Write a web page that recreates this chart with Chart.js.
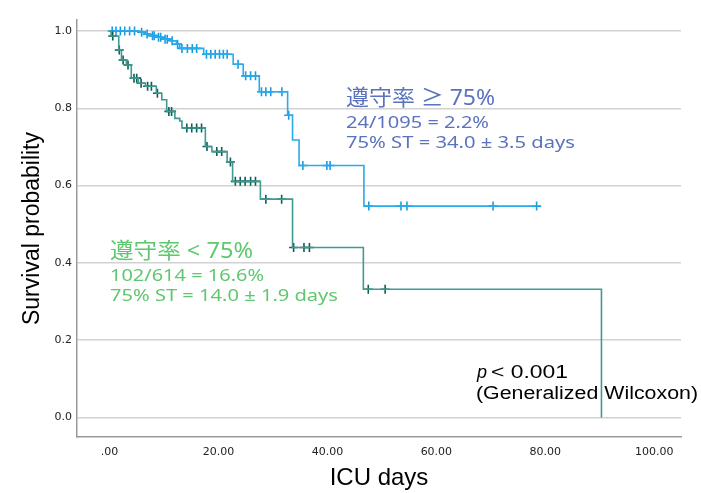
<!DOCTYPE html>
<html>
<head>
<meta charset="utf-8">
<script src="https://cdn.jsdelivr.net/npm/chart.js@4.4.1/dist/chart.umd.min.js"></script>
<style>
  html, body { margin: 0; padding: 0; background: #fff; }
</style>
</head>
<body>
<canvas id="km" width="701" height="493"></canvas>
<script>
// Kaplan-Meier curves: time of each drop (days) and survival after it
const highTimes = [0, 5.5, 6.5, 7.4, 8.6, 9.8, 11.1, 12.3, 12.9, 17.3, 22.7, 24.55, 27.5, 32.7, 33.6, 34.8, 46.7, 78.4];
const highSurv  = [1.0, 0.997, 0.992, 0.988, 0.984, 0.979, 0.975, 0.966, 0.955, 0.940, 0.914, 0.884, 0.843, 0.782, 0.718, 0.652, 0.547, 0.547];
const highCensored = [0.5, 1.2, 2.0, 2.8, 3.7, 4.6, 5.9, 6.9, 7.9, 8.2, 9.0, 9.4, 10.2, 10.6, 11.5, 12.5,
  13.3, 14.3, 15.2, 16.0, 17.8, 18.6, 19.4, 20.2, 20.9, 21.6, 23.6, 25.0, 25.9, 26.8, 27.9, 28.7, 29.6,
  31.65, 32.9, 35.5, 39.9, 40.5, 47.6, 53.5, 54.6, 70.4, 78.4];

const lowTimes = [0, 0.3, 1.7, 2.2, 3.1, 4.0, 5.3, 6.6, 8.6, 9.6, 10.5, 12.0, 12.9, 13.3, 17.6, 18.8, 21.6, 22.6, 27.7, 33.6, 46.6, 90.3];
const lowSurv  = [1.0, 0.987, 0.951, 0.925, 0.912, 0.878, 0.865, 0.857, 0.839, 0.822, 0.792, 0.774, 0.767, 0.749, 0.701, 0.688, 0.661, 0.611, 0.565, 0.440, 0.332, 0.0];
const lowCensored = [0.6, 1.8, 2.5, 3.4, 4.5, 5.0, 5.8, 7.0, 7.7, 8.8, 10.9, 11.4, 14.2, 15.1, 16.0, 16.9,
  17.9, 19.7, 20.6, 22.2, 23.1, 24.0, 24.9, 25.9, 26.8, 28.7, 31.6, 33.8, 35.7, 36.7, 47.5, 50.6];

const xTickValues = [0, 20, 40, 60, 80, 100];
const xTickLabels = ['.00', '20.00', '40.00', '60.00', '80.00', '100.00'];
const yTickValues = [0, 0.2, 0.4, 0.6, 0.8, 1.0];
const yTickLabels = ['0.0', '0.2', '0.4', '0.6', '0.8', '1.0'];

// survival at time t from the step function
function survAt(times, surv, t) {
  let s = surv[0];
  for (let i = 0; i < times.length; i++) {
    if (times[i] <= t) s = surv[i];
  }
  return s;
}

const toPoints = (times, surv) => times.map((t, i) => ({ x: t, y: surv[i] }));
const toMarks = (cens, times, surv) => cens.map(t => ({ x: t, y: survAt(times, surv, t) }));

// text labels drawn over the plot, squeezed to the widths seen in the picture
function putText(ctx, str, x, y, w) {
  const m = ctx.measureText(str).width;
  ctx.save();
  ctx.translate(x, y);
  ctx.scale(w / m, 1);
  ctx.fillText(str, 0, 0);
  ctx.restore();
}

const noteFont = '"Noto Sans", "Noto Sans CJK JP"';

const notes = {
  id: 'notes',
  afterDraw(chart) {
    const ctx = chart.ctx;
    ctx.save();
    ctx.textBaseline = 'alphabetic';
    ctx.textAlign = 'left';

    ctx.fillStyle = '#5a73be';
    ctx.font = '22px ' + noteFont;
    putText(ctx, '遵守率 ≥ 75%', 346, 105, 149);
    ctx.font = '17px ' + noteFont;
    putText(ctx, '24/1095 = 2.2%', 346, 128, 143);
    putText(ctx, '75% ST = 34.0 ± 3.5 days', 346, 148, 229);

    ctx.fillStyle = '#5fc86e';
    ctx.font = '22px ' + noteFont;
    putText(ctx, '遵守率 < 75%', 110, 258, 143);
    ctx.font = '17px ' + noteFont;
    putText(ctx, '102/614 = 16.6%', 110, 281, 154);
    putText(ctx, '75% ST = 14.0 ± 1.9 days', 110, 301, 228);

    ctx.fillStyle = '#000';
    ctx.font = 'italic 18px "Liberation Sans"';
    ctx.fillText('p', 477, 378);
    ctx.font = '18px "Liberation Sans"';
    putText(ctx, '< 0.001', 491, 378, 77);
    putText(ctx, '(Generalized Wilcoxon)', 476, 399, 222);
    ctx.restore();
  }
};

new Chart(document.getElementById('km'), {
  type: 'scatter',
  data: {
    datasets: [
      {
        type: 'line',
        data: toPoints(lowTimes, lowSurv),
        stepped: 'before',
        borderColor: '#3e9a93',
        borderWidth: 1.6,
        pointRadius: 0,
        fill: false
      },
      {
        data: toMarks(lowCensored, lowTimes, lowSurv),
        pointStyle: 'cross',
        pointRadius: 4.5,
        borderColor: '#0d5e54',
        borderWidth: 1.6
      },
      {
        type: 'line',
        data: toPoints(highTimes, highSurv),
        stepped: 'before',
        borderColor: '#2aaaea',
        borderWidth: 1.6,
        pointRadius: 0,
        fill: false
      },
      {
        data: toMarks(highCensored, highTimes, highSurv),
        pointStyle: 'cross',
        pointRadius: 4.5,
        borderColor: '#1a9ce2',
        borderWidth: 1.6
      }
    ]
  },
  options: {
    responsive: false,
    devicePixelRatio: 1,
    animation: false,
    layout: { padding: { top: 20, right: 20, left: 0, bottom: 0 } },
    plugins: {
      legend: { display: false },
      tooltip: { enabled: false }
    },
    scales: {
      x: {
        type: 'linear',
        min: -5.96,
        max: 104.9,
        afterBuildTicks: scale => { scale.ticks = xTickValues.map(v => ({ value: v })); },
        afterFit: scale => { scale.height = 56; },
        ticks: {
          callback: (v, i) => xTickLabels[i],
          font: { family: 'DejaVu Sans', size: 11 },
          color: '#222',
          padding: 9,
          maxRotation: 0
        },
        grid: { display: false, drawTicks: false },
        border: { color: '#9a9a9a', width: 1.5 },
        title: {
          display: true,
          text: 'ICU days',
          font: { family: 'Liberation Sans', size: 24 },
          color: '#000',
          padding: 0
        }
      },
      y: {
        min: -0.0505,
        max: 1.0285,
        afterBuildTicks: scale => { scale.ticks = yTickValues.map(v => ({ value: v })); },
        afterFit: scale => { scale.width = 77; },
        ticks: {
          callback: (v, i) => yTickLabels[i],
          font: { family: 'DejaVu Sans', size: 11 },
          color: '#222',
          padding: 5
        },
        grid: { color: '#d2d2d2', lineWidth: 1.5, drawTicks: false },
        border: { color: '#9a9a9a', width: 1.5 },
        title: {
          display: true,
          text: 'Survival probability',
          font: { family: 'Liberation Sans', size: 23 },
          color: '#000',
          padding: { top: 19, bottom: 0 }
        }
      }
    }
  },
  plugins: [notes]
});
</script>
</body>
</html>
